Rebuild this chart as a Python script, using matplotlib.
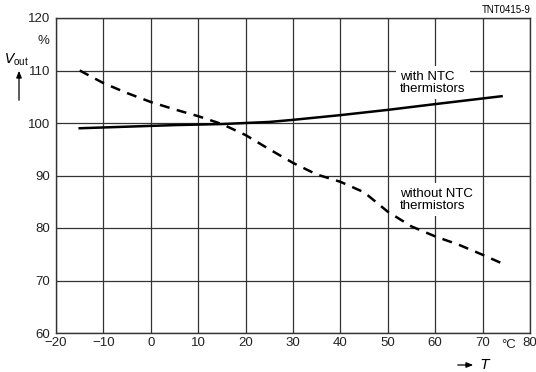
import matplotlib
matplotlib.use("Agg")
import matplotlib.pyplot as plt

plt.rcParams['font.family'] = ['Liberation Sans', 'DejaVu Sans']

# with NTC thermistors (solid)
t_with = [-15, -5, 5, 15, 20, 25, 30, 40, 50, 60, 74]
v_with = [99.0, 99.3, 99.6, 99.8, 100.0, 100.2, 100.6, 101.5, 102.5, 103.6, 105.1]

# without NTC thermistors (dashed)
t_without = [-15, -10, -5, 0, 5, 10, 15, 20, 25, 30, 35, 40, 45, 50, 55, 60, 65, 70, 74]
v_without = [110.0, 107.6, 105.7, 104.0, 102.6, 101.3, 99.8, 97.7, 95.0, 92.4, 90.2,
             88.8, 86.8, 83.1, 80.3, 78.4, 76.8, 74.9, 73.3]

x_ticks = [-20, -10, 0, 10, 20, 30, 40, 50, 60, 70, 80]
y_ticks = [60, 70, 80, 90, 100, 110, 120]

fig = plt.figure(figsize=(5.36, 3.72), dpi=100)
ax = fig.add_axes([56 / 536, 1 - 333 / 372, 474 / 536, 315 / 372])
ax.set_xlim(-20, 80)
ax.set_ylim(60, 120)
ax.set_xticks(x_ticks)
ax.set_yticks(y_ticks)
ax.tick_params(length=0, labelsize=9.5, colors='#222')
ax.tick_params(axis='y', pad=4)
ax.tick_params(axis='x', pad=3)
for s in ax.spines.values():
    s.set_color('#333')
    s.set_linewidth(1.0)
ax.grid(True, color='#333', linewidth=0.9)
ax.set_axisbelow(True)

ax.plot(t_with, v_with, color='black', lw=1.8, zorder=4)
ax.plot(t_without, v_without, color='black', lw=1.8, ls=(0, (4, 3)), zorder=4)

# curve labels, white box hides grid behind them
ax.text(52.6, 107.7, 'with NTC\nthermistors', fontsize=9.5, ha='left', va='center',
        linespacing=1.0, zorder=3,
        bbox=dict(facecolor='white', edgecolor='none', pad=3))
ax.text(52.6, 85.4, 'without NTC\nthermistors', fontsize=9.5, ha='left', va='center',
        linespacing=1.0, zorder=3,
        bbox=dict(facecolor='white', edgecolor='none', pad=3))

# extra labels in figure pixel coordinates
def fx(px):
    return px / 536

def fy(py):
    return 1 - py / 372

fig.text(fx(43), fy(41), '%', fontsize=9.5, ha='center', va='center', color='#222')
fig.text(fx(16), fy(60), r'$V_{\mathregular{out}}$', fontsize=10, ha='center', va='center')
fig.text(fx(509), fy(345), '°C', fontsize=9.5, ha='center', va='center', color='#222')
fig.text(fx(480), fy(365), r'$T$', fontsize=10, ha='left', va='center')
fig.text(fx(531), fy(10), 'TNT0415-9', fontsize=7, ha='right', va='center')

fig.patches.append(matplotlib.patches.FancyArrowPatch(
    (fx(19), fy(103)), (fx(19), fy(68)), transform=fig.transFigure,
    arrowstyle='-|>,head_length=4,head_width=1.6', color='black', lw=0.9))
fig.patches.append(matplotlib.patches.FancyArrowPatch(
    (fx(455), fy(365)), (fx(476), fy(365)), transform=fig.transFigure,
    arrowstyle='-|>,head_length=4,head_width=1.6', color='black', lw=0.9))

fig.savefig('out.png', dpi=100)
